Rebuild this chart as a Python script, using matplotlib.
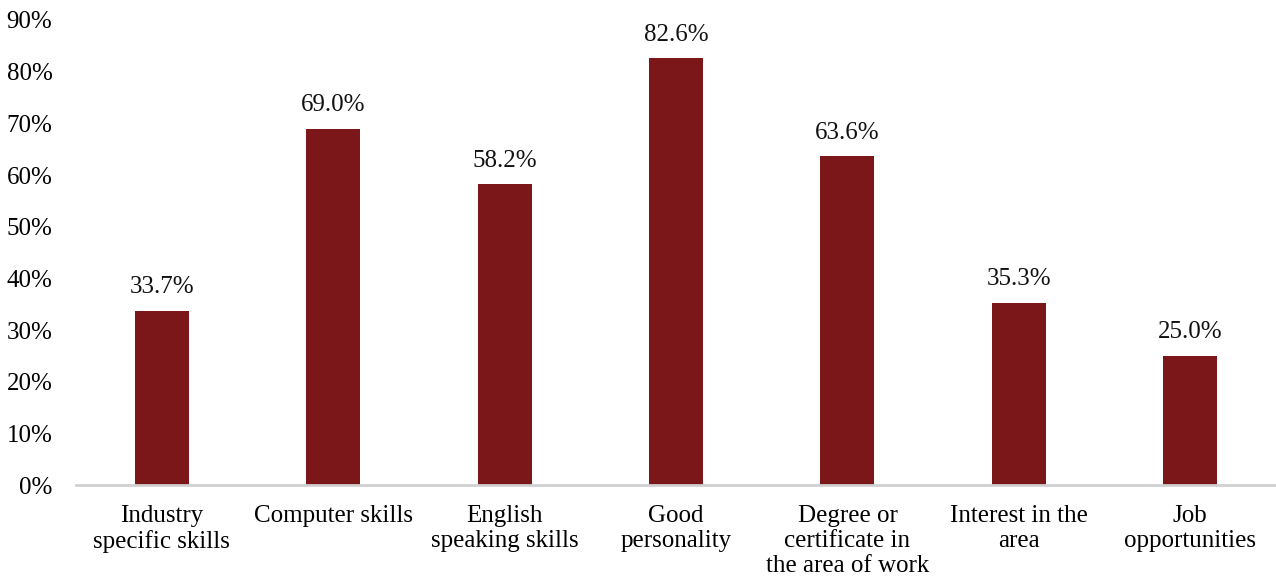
import matplotlib
matplotlib.use("Agg")
import matplotlib.pyplot as plt
from matplotlib.ticker import FuncFormatter, MultipleLocator

categories = [
    "Industry\nspecific skills",
    "Computer skills",
    "English\nspeaking skills",
    "Good\npersonality",
    "Degree or\ncertificate in\nthe area of work",
    "Interest in the\narea",
    "Job\nopportunities",
]
values = [33.7, 69.0, 58.2, 82.6, 63.6, 35.3, 25.0]

bar_color = "#7B1719"
font = ["Liberation Serif", "DejaVu Serif"]
plt.rcParams["font.family"] = font

fig = plt.figure(figsize=(12.76, 5.83), dpi=100)
ax = fig.add_axes([0.0596, 0.168, 0.9404, 0.7977])

x = list(range(len(categories)))
bars = ax.bar(x, values, width=0.315, color=bar_color, zorder=2)

for xi, v in zip(x, values):
    ax.annotate(f"{v:.1f}%", (xi, v), xytext=(0, 9), textcoords="offset points",
                ha="center", va="bottom", fontsize=18, color="#111111")

ax.set_xlim(-0.5, len(categories) - 0.5)
ax.set_ylim(0, 90)
ax.yaxis.set_major_locator(MultipleLocator(10))
ax.yaxis.set_major_formatter(FuncFormatter(lambda v, p: f"{v:.0f}%"))
ax.set_xticks(x)
ax.set_xticklabels(categories, fontsize=18, linespacing=1.2)
ax.tick_params(axis="y", labelsize=18, length=0, pad=17)
ax.tick_params(axis="x", length=0, pad=14)

for s in ["top", "right", "left"]:
    ax.spines[s].set_visible(False)
ax.spines["bottom"].set_color("#d0d0d0")
ax.spines["bottom"].set_linewidth(2)

fig.savefig("out.png", dpi=100)
